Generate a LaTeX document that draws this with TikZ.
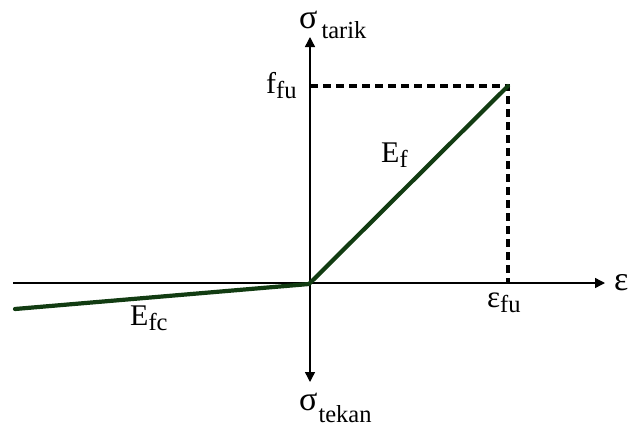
\documentclass[tikz,border=0pt]{standalone}
\usepackage{fontspec}
\setmainfont{Liberation Serif}
\usetikzlibrary{arrows.meta}
\definecolor{curve}{RGB}{18,60,18}
\newcommand{\bigtxt}{\fontsize{30}{32}\selectfont}
\newcommand{\gktxt}{\fontsize{34}{36}\selectfont}
\newcommand{\subtxt}{\fontsize{24.5}{26}\selectfont}
\tikzset{
  axis/.style={line width=1.4pt,-{Triangle[length=10pt,width=10pt]}},
  guide/.style={line width=3.2pt,dash pattern=on 8pt off 5pt},
  law/.style={line width=4.2pt,color=curve,line cap=round,line join=round},
  lbl/.style={inner sep=0pt,anchor=base west}
}
\begin{document}
\begin{tikzpicture}[x=1pt,y=-1pt]
\useasboundingbox (0,0) rectangle (632,426);
\coordinate (O) at (310,283);
\coordinate (L) at (13,283);
\coordinate (R) at (605,283);
\coordinate (T) at (310,37);
\coordinate (B) at (310,382);
\coordinate (P) at (508,86);
\coordinate (Py) at (310,86);
\coordinate (Px) at (508,283);
\coordinate (C) at (15,309);
\coordinate (O2) at (309,284);
\draw[line width=1.4pt] (L) -- (O);
\draw[axis] (O) -- (R);
\draw[axis] (O) -- (T);
\draw[axis] (O) -- (B);
\draw[guide] (Py) -- (P) -- (Px);
\draw[law] (C) -- (O2) -- (P);
\node[lbl] (st) at (299,28) {\gktxt σ\raisebox{-10pt}{\hspace{4pt}\subtxt tarik}};
\node[lbl] (sk) at (299,410) {\gktxt σ\raisebox{-12pt}{\hspace{1pt}\subtxt tekan}};
\node[lbl] (ff) at (266,93) {\bigtxt f\raisebox{-5pt}{\subtxt fu}};
\node[lbl] (ef) at (381,162) {\bigtxt E\raisebox{-5pt}{\subtxt f}};
\node[lbl] (efc) at (130,325) {\bigtxt E\raisebox{-5pt}{\subtxt fc}};
\node[lbl] (eps) at (614,290) {\gktxt ε};
\node[lbl] (efu) at (487,307) {\fontsize{31}{33}\selectfont ε\raisebox{-5pt}{\subtxt fu}};
\end{tikzpicture}
\end{document}
